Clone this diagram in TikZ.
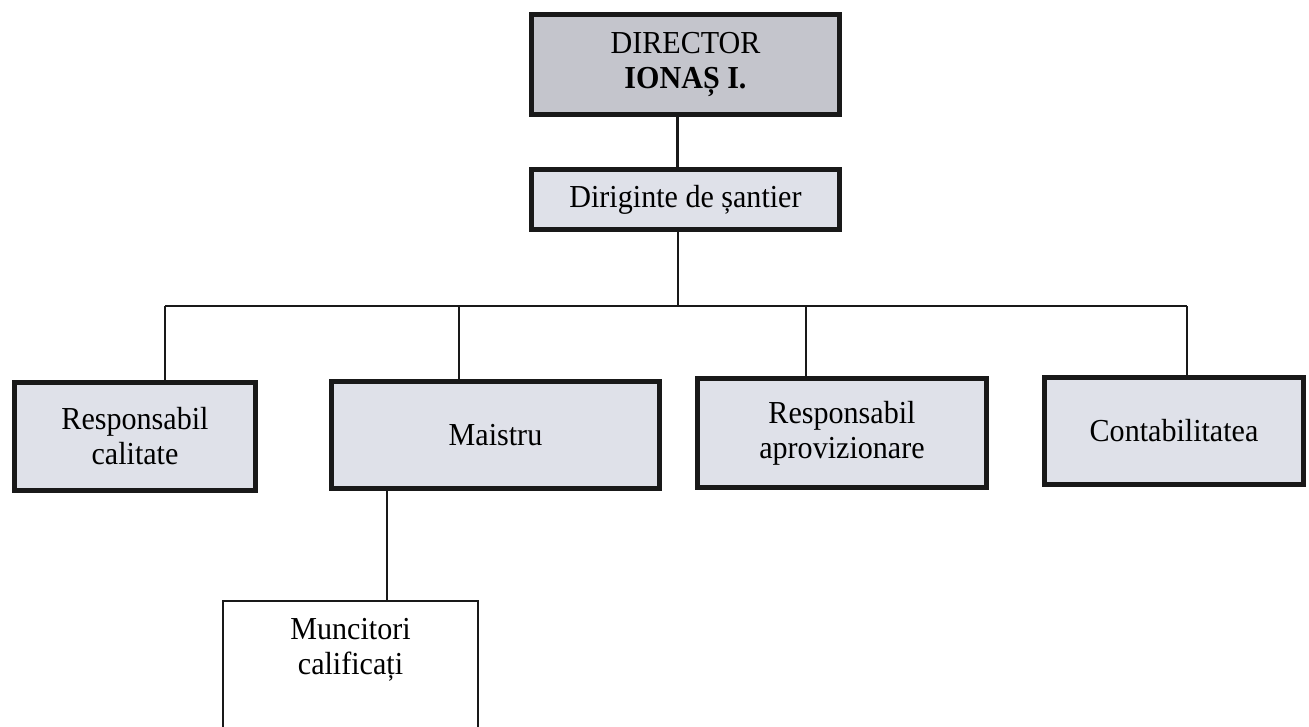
\documentclass[tikz,border=0pt]{standalone}
\usepackage{fontspec}
\setmainfont{Liberation Serif}[FakeStretch=0.94]
\definecolor{dirfill}{RGB}{196,197,204}
\definecolor{boxfill}{RGB}{223,225,233}
\begin{document}
\begin{tikzpicture}[x=1pt,y=-1pt,
  box/.style={draw=black!90,line width=5pt,fill=boxfill,align=center,inner sep=0pt,
    font=\fontsize{32}{35}\selectfont},
  link/.style={draw=black!90,line width=2.2pt}]
\useasboundingbox (0,0) rectangle (1309,726);

\node[box,fill=dirfill,line width=5.5pt,minimum width=308pt,minimum height=100pt] (director) at (685.5,64.5) {DIRECTOR\\\textbf{IONAȘ I.}};
\node[box,minimum width=308pt,minimum height=60pt] (diriginte) at (685.5,199.5) {Diriginte de șantier};
\node[box,minimum width=241pt,minimum height=108pt] (respcal) at (135,436.5) {Responsabil\\calitate};
\node[box,minimum width=328pt,minimum height=107pt] (maistru) at (495.5,435) {Maistru};
\node[box,minimum width=289pt,minimum height=109pt] (respaprov) at (842,433) {Responsabil\\aprovizionare};
\node[box,minimum width=259pt,minimum height=107pt] (contab) at (1174,431) {Contabilitatea};
\node[draw=black!90,line width=2.2pt,fill=white,inner sep=0pt,anchor=north,
  font=\fontsize{32}{35}\selectfont] (muncitori) at (350.5,599.8)
  {\parbox[c][140pt][t]{255pt}{\centering\vspace*{17pt}Muncitori\\calificați}};

\coordinate (jd) at (678,306);
\coordinate (jc) at (165,306);
\coordinate (jm) at (459,306);
\coordinate (ja) at (806,306);
\coordinate (jk) at (1187,306);
\coordinate (jw) at (387,0);

\draw[link] ([xshift=-8pt]director.south) -- ([xshift=-8pt]diriginte.north);
\draw[link] ([xshift=-7.5pt]diriginte.south) -- (jd);
\draw[link] (jc) -- (jk);
\draw[link] (jc) -- (jc |- respcal.north);
\draw[link] (jm) -- (jm |- maistru.north);
\draw[link] (ja) -- (ja |- respaprov.north);
\draw[link] (jk) -- (jk |- contab.north);
\draw[link] (jw |- maistru.south) -- (jw |- muncitori.north);
\end{tikzpicture}
\end{document}
